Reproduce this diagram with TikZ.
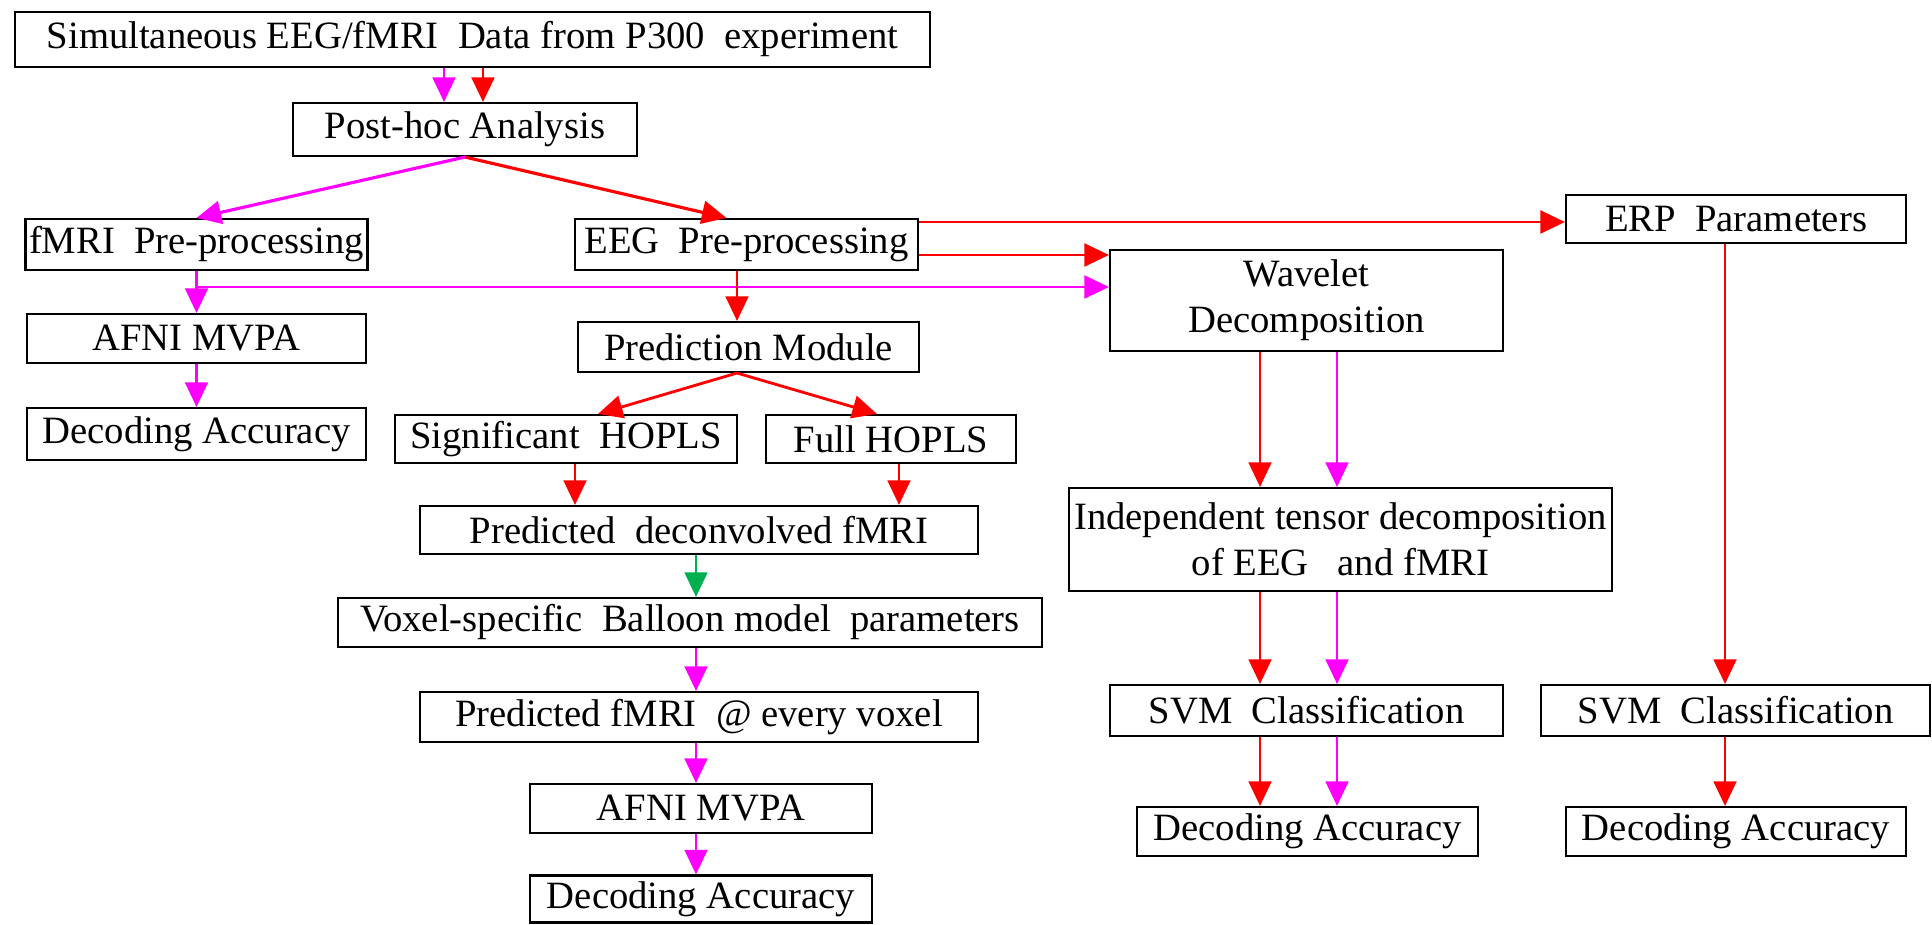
\documentclass[tikz,border=0pt]{standalone}
\usepackage{fontspec}
\setmainfont{Liberation Serif}
\usepackage{tikz}
\usetikzlibrary{arrows.meta, positioning}
\definecolor{flmag}{RGB}{255,0,255}
\definecolor{flred}{RGB}{255,0,0}
\definecolor{flgreen}{RGB}{0,176,80}

\begin{document}
\begin{tikzpicture}[every node/.style={font=\fontsize{11}{13}\selectfont},
  box/.style={draw=black, line width=0.6pt, rectangle, inner xsep=1pt,
              inner ysep=1pt, align=center},
  arr/.style={line width=0.65pt, -{Triangle[length=7pt, width=6.5pt]}},
  redarr/.style={arr, flred},
  magarr/.style={arr, flmag},
  grnarr/.style={arr, flgreen}]
  \useasboundingbox (0,0) rectangle (19.32,9.24);

  % Top and post-hoc
  \node[box, minimum width=9.15cm, minimum height=0.55cm] (top) at (4.725,8.845)
    {Simultaneous EEG/fMRI\ \ Data from P300\ \ experiment};
  \node[box, minimum width=3.44cm, minimum height=0.53cm] (posthoc) at (4.65,7.945)
    {Post-hoc Analysis};

  % Pre-processing and ERP
  \node[box, minimum width=3.39cm, minimum height=0.51cm] (fmripre) at (1.965,6.795)
    {fMRI\ \ Pre-processing};
  \node[box, minimum width=3.43cm, minimum height=0.51cm] (eegpre) at (7.465,6.795)
    {EEG\ \ Pre-processing};
  \node[box, minimum width=3.40cm, minimum height=0.48cm] (erp) at (17.36,7.05)
    {ERP\ \ Parameters};
  \node[box, minimum width=3.93cm, minimum height=1.01cm] (wavelet) at (13.065,6.235)
    {Wavelet\\Decomposition};

  % fMRI branch
  \node[box, minimum width=3.39cm, minimum height=0.49cm] (afnil) at (1.965,5.855)
    {AFNI MVPA};
  \node[box, minimum width=3.39cm, minimum height=0.52cm] (decl) at (1.965,4.90)
    {Decoding Accuracy};

  % Prediction branch
  \node[box, minimum width=3.41cm, minimum height=0.50cm] (predmod) at (7.485,5.77)
    {Prediction Module};
  \node[box, minimum width=3.42cm, minimum height=0.48cm] (sighopls) at (5.66,4.85)
    {Significant\ \ HOPLS};
  \node[box, minimum width=2.50cm, minimum height=0.48cm] (fullhopls) at (8.91,4.85)
    {Full HOPLS};
  \node[box, minimum width=5.58cm, minimum height=0.48cm] (preddec) at (6.99,3.94)
    {Predicted\ \ deconvolved fMRI};
  \node[box, minimum width=7.04cm, minimum height=0.49cm] (balloon) at (6.90,3.015)
    {Voxel-specific\ \ Balloon model\ \ parameters};
  \node[box, minimum width=5.58cm, minimum height=0.50cm] (predfmri) at (6.99,2.07)
    {Predicted fMRI\ \ @ every voxel};
  \node[box, minimum width=3.42cm, minimum height=0.49cm] (afnim) at (7.01,1.155)
    {AFNI MVPA};
  \node[box, minimum width=3.42cm, minimum height=0.47cm] (decm) at (7.01,0.25)
    {Decoding Accuracy};

  % Tensor branch
  \node[box, inner xsep=0pt, minimum width=5.43cm, minimum height=1.03cm] (indep)
    at (13.405,3.845) {Independent tensor decomposition\\of EEG\ \ \ and fMRI};
  \node[box, minimum width=3.93cm, minimum height=0.51cm] (svmm) at (13.065,2.135)
    {SVM\ \ Classification};
  \node[box, minimum width=3.41cm, minimum height=0.49cm] (decmr) at (13.075,0.925)
    {Decoding Accuracy};

  % ERP branch
  \node[box, minimum width=3.89cm, minimum height=0.51cm] (svmr) at (17.355,2.135)
    {SVM\ \ Classification};
  \node[box, minimum width=3.40cm, minimum height=0.49cm] (decr) at (17.36,0.925)
    {Decoding Accuracy};

  % Top arrows
  \draw[magarr, line width=0.8pt] (top.south -| 4.44,0) -- (posthoc.north -| 4.44,0);
  \draw[redarr, line width=0.8pt] (top.south -| 4.83,0) -- (posthoc.north -| 4.83,0);
  \draw[magarr, line width=0.9pt] (posthoc.south) -- (fmripre.north);
  \draw[redarr, line width=0.9pt] (posthoc.south) -- ([xshift=-2mm]eegpre.north);

  % EEG to ERP and wavelet
  \draw[redarr, line width=0.8pt] (eegpre.east |- 0,7.02) -- (erp.west |- 0,7.02);
  \draw[redarr, line width=0.8pt] (eegpre.east |- 0,6.69) -- (wavelet.west |- 0,6.69);

  % fMRI pre-processing out
  \coordinate (fbranch) at (fmripre.south |- 0,6.37);
  \draw[magarr] (fmripre.south) -- (afnil.north);
  \draw[magarr, line width=0.8pt] (fbranch) -- (wavelet.west |- fbranch);
  \draw[magarr] (afnil.south) -- (decl.north);

  % Prediction chain
  \draw[redarr] (eegpre.south -| 7.37,0) -- (predmod.north -| 7.37,0);
  \draw[redarr, line width=0.8pt] (predmod.south -| 7.37,0) -- ([xshift=3.2mm]sighopls.north);
  \draw[redarr, line width=0.8pt] (predmod.south -| 7.37,0) -- ([xshift=-1.4mm]fullhopls.north);
  \draw[redarr] (sighopls.south -| 5.75,0) -- (preddec.north -| 5.75,0);
  \draw[redarr] (fullhopls.south -| 8.99,0) -- (preddec.north -| 8.99,0);
  \draw[grnarr] (preddec.south -| 6.96,0) -- (balloon.north -| 6.96,0);
  \draw[magarr] (balloon.south -| 6.96,0) -- (predfmri.north -| 6.96,0);
  \draw[magarr] (predfmri.south -| 6.96,0) -- (afnim.north -| 6.96,0);
  \draw[magarr] (afnim.south -| 6.96,0) -- (decm.north -| 6.96,0);

  % Tensor chain
  \foreach \fx/\fcol in {12.60/redarr, 13.37/magarr} {
    \draw[\fcol] (wavelet.south -| \fx,0) -- (indep.north -| \fx,0);
    \draw[\fcol] (indep.south -| \fx,0) -- (svmm.north -| \fx,0);
    \draw[\fcol] (svmm.south -| \fx,0) -- (decmr.north -| \fx,0);
  }

  % ERP chain
  \draw[redarr] (erp.south -| 17.25,0) -- (svmr.north -| 17.25,0);
  \draw[redarr] (svmr.south -| 17.25,0) -- (decr.north -| 17.25,0);
\end{tikzpicture}
\end{document}
